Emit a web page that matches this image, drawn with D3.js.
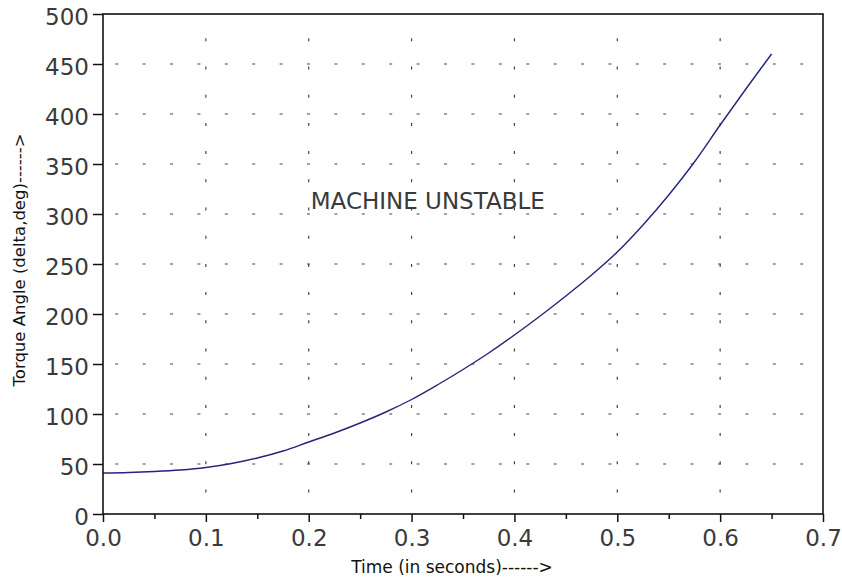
<!DOCTYPE html>
<html>
<head>
<meta charset="utf-8">
<script src="https://cdn.jsdelivr.net/npm/d3@7"></script>
<style>
  html, body { margin: 0; padding: 0; background: #fff; }
  svg { display: block; }
</style>
</head>
<body>
<script>
// ---- data ----
const time  = [0, 0.025, 0.05, 0.075, 0.1, 0.125, 0.15, 0.175, 0.2, 0.225, 0.25, 0.275, 0.3, 0.325, 0.35, 0.375, 0.4, 0.425, 0.45, 0.475, 0.5, 0.525, 0.55, 0.575, 0.6, 0.625, 0.65];
const delta = [41, 41.5, 42.5, 44, 46.5, 50.5, 56, 63, 72, 81, 91, 102, 114.5, 129, 144.5, 161, 179, 198, 218, 239, 262, 289, 319, 352, 389, 425, 460];
const xTicks = [0, 0.1, 0.2, 0.3, 0.4, 0.5, 0.6, 0.7];
const xTickLabels = ["0.0", "0.1", "0.2", "0.3", "0.4", "0.5", "0.6", "0.7"];
const xMinorTicks = [0.05, 0.15, 0.25, 0.35, 0.45, 0.55, 0.65];
const yTicks = [0, 50, 100, 150, 200, 250, 300, 350, 400, 450, 500];
const yTickLabels = ["0", "50", "100", "150", "200", "250", "300", "350", "400", "450", "500"];
const xTitle = "Time (in seconds)------>";
const yTitle = "Torque Angle (delta,deg)------>";
const annotation = { x: 0.2, y: 305, text: "MACHINE UNSTABLE" };

// ---- layout ----
const W = 842, H = 581;
const L = 103, R = 823, T = 14, B = 514;
const font = "'DejaVu Sans', sans-serif";

const svg = d3.select("body").append("svg").attr("width", W).attr("height", H);
svg.append("rect").attr("width", W).attr("height", H).attr("fill", "#fff");

const x = d3.scaleLinear().domain([0, 0.7]).range([L, R]);
const y = d3.scaleLinear().domain([0, 500]).range([B, T]);

// grid
const grid = svg.append("g").attr("stroke", "#444").attr("stroke-width", 1.2).attr("fill", "none");
grid.selectAll("line.h").data(yTicks.filter(v => v > 0 && v < 500)).join("line")
  .attr("x1", L).attr("x2", R).attr("y1", d => y(d)).attr("y2", d => y(d))
  .attr("stroke-dasharray", "3,24.4").attr("stroke-dashoffset", 15.2);
grid.selectAll("line.v").data(xTicks.filter(v => v > 0 && v < 0.7)).join("line")
  .attr("x1", d => x(d)).attr("x2", d => x(d)).attr("y1", B).attr("y2", T)
  .attr("stroke-dasharray", "3,25.2").attr("stroke-dashoffset", 6.7);

// curve
svg.append("path")
  .datum(time.map((t, i) => [t, delta[i]]))
  .attr("fill", "none").attr("stroke", "#24247a").attr("stroke-width", 1.4)
  .attr("d", d3.line().x(d => x(d[0])).y(d => y(d[1])).curve(d3.curveCatmullRom));

// axes
const xMinor = d3.axisBottom(x).tickValues(xMinorTicks).tickFormat("").tickSize(5);
const xMajor = d3.axisBottom(x).tickValues(xTicks).tickFormat((d, i) => xTickLabels[i]).tickSize(8).tickPadding(8);
const yAxis = d3.axisLeft(y).tickValues(yTicks).tickFormat((d, i) => yTickLabels[i]).tickSize(10).tickPadding(4);

const gxm = svg.append("g").attr("transform", `translate(0,${B})`).call(xMinor);
const gx = svg.append("g").attr("transform", `translate(0,${B})`).call(xMajor);
const gy = svg.append("g").attr("transform", `translate(${L},0)`).call(yAxis);
[gxm, gx, gy].forEach(g => {
  g.select(".domain").remove();
  g.selectAll("line").attr("stroke", "#111").attr("stroke-width", 1.5);
  g.selectAll("text").attr("font-family", font).attr("font-size", 23).attr("fill", "#3a3a3a");
});
gy.selectAll("text").attr("dy", "0.45em");

// frame
svg.append("rect").attr("x", L).attr("y", T).attr("width", R - L).attr("height", B - T)
  .attr("fill", "none").attr("stroke", "#111").attr("stroke-width", 1.6);

// annotation
svg.append("text").attr("x", x(annotation.x) + 2).attr("y", y(annotation.y))
  .attr("font-family", font).attr("font-size", 23).attr("fill", "#3a3a3a")
  .text(annotation.text);

// titles
svg.append("text").attr("x", 452).attr("y", 573).attr("text-anchor", "middle")
  .attr("font-family", font).attr("font-size", 17).attr("fill", "#111").text(xTitle);
svg.append("text").attr("transform", "translate(25,260) rotate(-90)").attr("text-anchor", "middle")
  .attr("font-family", font).attr("font-size", 16.5).attr("fill", "#111").text(yTitle);
</script>
</body>
</html>
